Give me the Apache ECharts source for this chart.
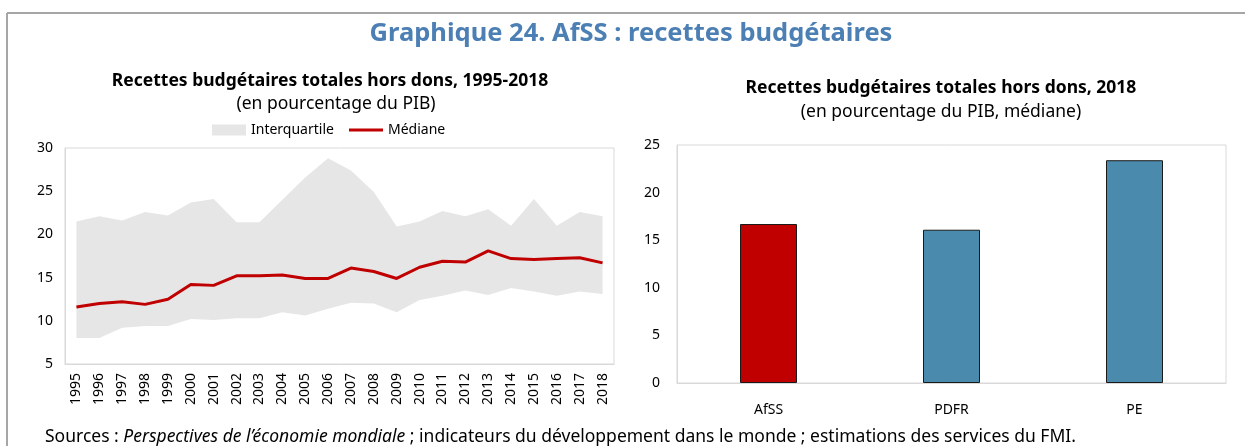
<!DOCTYPE html>
<html>
<head>
<meta charset="utf-8">
<script src="https://cdn.jsdelivr.net/npm/echarts@6/dist/echarts.min.js"></script>
<style>
  html, body { margin: 0; padding: 0; background: #fff; }
  #chart { width: 1245px; height: 446px; }
</style>
</head>
<body>
<div id="chart"></div>
<script>
// Left chart: 1995-2018, % of GDP
const years = ['1995', '1996', '1997', '1998', '1999', '2000', '2001', '2002', '2003', '2004', '2005', '2006',
  '2007', '2008', '2009', '2010', '2011', '2012', '2013', '2014', '2015', '2016', '2017', '2018']
const median = [11.6, 12.0, 12.2, 11.9, 12.5, 14.2, 14.1, 15.2, 15.2, 15.3, 14.9, 14.9,
  16.1, 15.7, 14.9, 16.2, 16.9, 16.8, 18.1, 17.2, 17.1, 17.2, 17.3, 16.7]
const q1 = [8.0, 8.0, 9.2, 9.4, 9.4, 10.2, 10.1, 10.3, 10.3, 11.0, 10.6, 11.4,
  12.1, 12.0, 11.0, 12.4, 12.9, 13.5, 13.0, 13.8, 13.4, 12.9, 13.4, 13.1]
const q3 = [21.5, 22.1, 21.6, 22.6, 22.2, 23.7, 24.1, 21.4, 21.4, 24.0, 26.6, 28.8,
  27.4, 24.9, 20.9, 21.5, 22.7, 22.1, 22.9, 21.0, 24.1, 21.0, 22.6, 22.1]

// Right chart: 2018 medians
const groups = ['AfSS', 'PDFR', 'PE']
const groupValues = [16.7, 16.1, 23.4]

const font = '"Noto Sans", "Open Sans", sans-serif'
const axisGray = '#d9d9d9'

const chart = echarts.init(document.getElementById('chart'))

const barColors = ['#C00000', '#4A8BAD', '#4A8BAD']

chart.setOption({
  animation: false,
  textStyle: { fontFamily: font, color: '#000' },
  graphic: [
    // frame
    { type: 'line', shape: { x1: 7, y1: 13, x2: 1245, y2: 13 }, style: { stroke: '#a6a6a6', lineWidth: 2 } },
    { type: 'line', shape: { x1: 7, y1: 13, x2: 7, y2: 446 }, style: { stroke: '#a6a6a6', lineWidth: 2 } },
    {
      type: 'text', x: 631, y: 34,
      style: { text: 'Graphique 24. AfSS : recettes budgétaires', font: 'bold 25.5px ' + font, fill: '#4C7FB4', align: 'center', verticalAlign: 'middle' },
    },
    {
      type: 'text', x: 330, y: 81,
      style: { text: 'Recettes budgétaires totales hors dons, 1995-2018', font: 'bold 17.5px ' + font, fill: '#000', align: 'center', verticalAlign: 'middle' },
    },
    {
      type: 'text', x: 336, y: 104,
      style: { text: '(en pourcentage du PIB)', font: '17.5px ' + font, fill: '#000', align: 'center', verticalAlign: 'middle' },
    },
    {
      type: 'text', x: 941, y: 88,
      style: { text: 'Recettes budgétaires totales hors dons, 2018', font: 'bold 17.5px ' + font, fill: '#000', align: 'center', verticalAlign: 'middle' },
    },
    {
      type: 'text', x: 941, y: 112,
      style: { text: '(en pourcentage du PIB, médiane)', font: '17.5px ' + font, fill: '#000', align: 'center', verticalAlign: 'middle' },
    },
    {
      type: 'text', x: 45, y: 437,
      style: {
        text: '{n|Sources : }{i|Perspectives de l\u2019économie mondiale}{n| ; indicateurs du développement dans le monde ; estimations des services du FMI.}',
        verticalAlign: 'middle',
        rich: {
          n: { font: '17.5px ' + font, fill: '#000' },
          i: { font: 'italic 17.5px ' + font, fill: '#000' },
        },
      },
    },
  ],
  legend: [
    {
      data: [{ name: 'Interquartile', itemStyle: { color: '#e6e6e6' } }],
      left: 207, top: 118, icon: 'rect', itemWidth: 34, itemHeight: 11, itemGap: 5,
      textStyle: { fontSize: 14, fontFamily: font, color: '#000' },
    },
    {
      data: ['Médiane'],
      left: 344, top: 118, icon: 'rect', itemWidth: 34, itemHeight: 3,
      textStyle: { fontSize: 14, fontFamily: font, color: '#000' },
    },
  ],
  grid: [
    { left: 65, right: 631, top: 148, bottom: 82 },
    { left: 677, right: 19, top: 145, bottom: 63 },
  ],
  xAxis: [
    {
      type: 'category', gridIndex: 0, data: years, boundaryGap: true,
      axisLine: { lineStyle: { color: axisGray } },
      axisTick: { inside: true, length: 6, lineStyle: { color: axisGray } },
      axisLabel: { rotate: 90, fontSize: 14, color: '#000', margin: 9, interval: 0 },
    },
    {
      type: 'category', gridIndex: 1, data: groups,
      axisLine: { lineStyle: { color: axisGray } },
      axisTick: { inside: true, length: 6, lineStyle: { color: axisGray } },
      axisLabel: { fontSize: 14, color: '#000', margin: 20 },
    },
  ],
  yAxis: [
    {
      type: 'value', gridIndex: 0, min: 5, max: 30, interval: 5,
      axisLine: { show: true, lineStyle: { color: axisGray } },
      axisTick: { show: false },
      splitLine: { show: false },
      axisLabel: { fontSize: 14, color: '#000', margin: 12 },
    },
    {
      type: 'value', gridIndex: 1, min: 0, max: 25, interval: 5,
      axisLine: { show: true, lineStyle: { color: axisGray } },
      axisTick: { show: false },
      splitLine: { show: false },
      axisLabel: { fontSize: 14, color: '#000', margin: 17 },
    },
  ],
  series: [
    {
      name: 'base', type: 'line', xAxisIndex: 0, yAxisIndex: 0, stack: 'band',
      data: q1, symbol: 'none', lineStyle: { opacity: 0 }, silent: true,
    },
    {
      name: 'Interquartile', type: 'line', xAxisIndex: 0, yAxisIndex: 0, stack: 'band',
      data: q3.map((v, i) => +(v - q1[i]).toFixed(2)),
      symbol: 'none', color: '#e6e6e6',
      lineStyle: { opacity: 0 },
      areaStyle: { color: '#e6e6e6', opacity: 1 },
    },
    {
      name: 'Médiane', type: 'line', xAxisIndex: 0, yAxisIndex: 0,
      data: median, symbol: 'none', color: '#C00000',
      lineStyle: { color: '#C00000', width: 3 },
      z: 5,
    },
    {
      name: 'bars', type: 'bar', xAxisIndex: 1, yAxisIndex: 1,
      barWidth: 57,
      data: groupValues.map((v, i) => ({ value: v, itemStyle: { color: barColors[i] } })),
      itemStyle: { borderColor: '#1a1a1a', borderWidth: 1 },
    },
  ],
})

// plot box borders (top/right), drawn from the grid rectangles
const boxes = [0, 1].map((i) => chart.getModel().getComponent('grid', i).coordinateSystem.getRect())
chart.setOption({
  graphic: boxes.map((r, i) => ({
    id: 'box' + i, type: 'rect', silent: true, z: 0,
    shape: { x: r.x, y: r.y, width: r.width, height: r.height },
    style: { fill: null, stroke: axisGray, lineWidth: 1 },
  })),
})
</script>
</body>
</html>
